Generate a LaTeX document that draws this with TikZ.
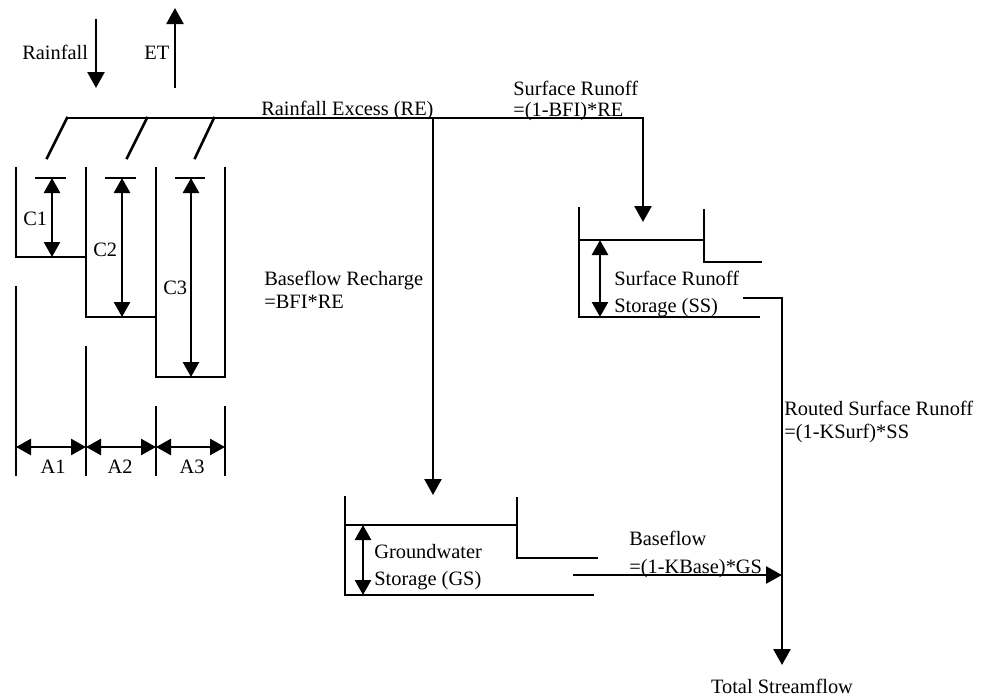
\documentclass[tikz,border=0pt]{standalone}
\usepackage{fontspec}
\setmainfont{Liberation Serif}
\usetikzlibrary{arrows.meta,positioning}

\begin{document}
\begin{tikzpicture}[
  x=0.5pt, y=-0.5pt,
  line width=1.3pt, line cap=rect,
  every node/.style={font=\fontsize{10.2}{12}\selectfont, inner sep=0pt, anchor=base west},
  flow/.style={-{Triangle[length=8pt,width=8.5pt]}, line cap=butt},
  dim/.style={{Triangle[length=7.5pt,width=8pt]}-{Triangle[length=7.5pt,width=8pt]}, line cap=butt},
]
\useasboundingbox (0,0) rectangle (986,697);

% Inputs
\coordinate (rainTop) at (96,19);
\coordinate (rainBot) at (96,88);
\coordinate (etBot) at (175,88);
\coordinate (etTop) at (175,8);
\draw[flow] (rainTop) -- (rainBot);
\draw[flow] (etBot) -- (etTop);
\node (rainLab) at (21,59) {Rainfall};
\node (etLab) at (143,59) {ET};

% Rainfall excess line
\coordinate (reLeft) at (67,118);
\coordinate (reSplit) at (433,118);
\coordinate (reRight) at (643,118);
\coordinate (ssIn) at (643,222);
\coordinate (gsIn) at (433,495);
\draw[flow] (reLeft) -- (reRight) -- (ssIn);
\draw[flow] (reSplit) -- (gsIn);
\node (reLab) at (260,115) {Rainfall Excess (RE)};
\node (srLab) at (512,95) {Surface Runoff};
\node (srEq) at (512,116) {=(1-BFI)*RE};
\node (bfrLab) at (263,285) {Baseflow Recharge};
\node (bfrEq) at (263,308) {=BFI*RE};

% Spill from stores into the line
\draw (reLeft) -- (47,158);
\draw (147,118) -- (127,158);
\draw (214,118) -- (195,158);

% Stores C1, C2, C3
\draw (16,168) -- (16,257) -- (86,257);
\draw (86,168) -- (86,317) -- (156,317);
\draw (156,168) -- (156,377) -- (225,377) -- (225,168);
\draw (16,287) -- (16,475);
\draw (86,347) -- (86,475);
\draw (156,407) -- (156,475);
\draw (225,407) -- (225,475);

% Capacities
\draw (36,178) -- (65,178);
\draw (106,178) -- (135,178);
\draw (176,178) -- (204,178);
\draw[dim] (52,178) -- (52,257);
\draw[dim] (122,178) -- (122,317);
\draw[dim] (191,178) -- (191,377);
\node (c1Lab) at (22,225) {C1};
\node (c2Lab) at (92,256) {C2};
\node (c3Lab) at (162,294) {C3};

% Areas
\draw[dim] (16,447) -- (86,447);
\draw[dim] (86,447) -- (156,447);
\draw[dim] (156,447) -- (225,447);
\node[anchor=base] (a1Lab) at (53,473) {A1};
\node[anchor=base] (a2Lab) at (120,473) {A2};
\node[anchor=base] (a3Lab) at (192,473) {A3};

% Surface runoff storage
\draw (579,208) -- (579,317) -- (759,317);
\draw (579,240) -- (704,240);
\draw (704,210) -- (704,262) -- (761,262);
\draw[dim] (600,240) -- (600,317);
\node (ssLab) at (613,285) {Surface Runoff};
\node (ssLab2) at (613,312) {Storage (SS)};

% Groundwater storage
\draw (345,497) -- (345,595) -- (593,595);
\draw (345,525) -- (517,525);
\draw (517,498) -- (517,558) -- (597,558);
\draw[dim] (363,525) -- (363,595);
\node (gsLab) at (373,558) {Groundwater};
\node (gsLab2) at (373,585) {Storage (GS)};

% Outflows
\coordinate (ssOut) at (743,298);
\coordinate (ssBend) at (782,298);
\coordinate (gsOut) at (573,575);
\coordinate (join) at (782,575);
\coordinate (qOut) at (782,665);
\draw[flow] (ssOut) -- (ssBend) -- (qOut);
\draw[flow] (gsOut) -- (join);
\node (rsrLab) at (783,415) {Routed Surface Runoff};
\node (rsrEq) at (783,438) {=(1-KSurf)*SS};
\node (bfLab) at (628,545) {Baseflow};
\node (bfEq) at (628,573) {=(1-KBase)*GS};
\node[anchor=base] (qLab) at (782,693) {Total Streamflow};

\end{tikzpicture}
\end{document}
